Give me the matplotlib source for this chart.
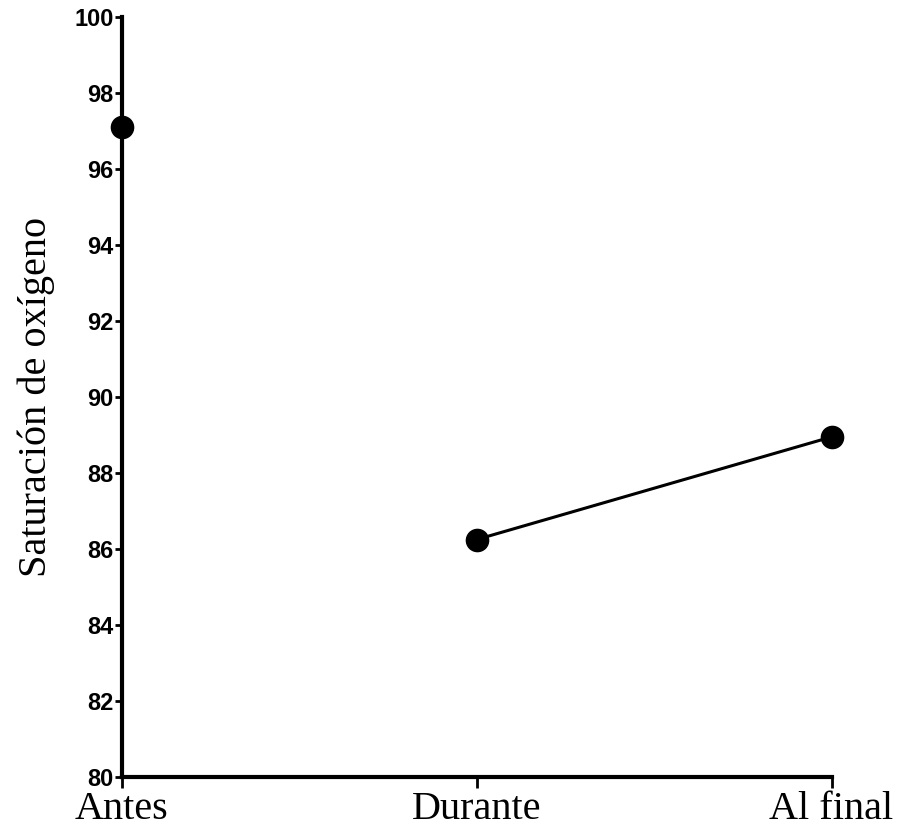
import matplotlib
matplotlib.use("Agg")
import matplotlib.pyplot as plt

categories = ["Antes", "Durante", "Al final"]
values = [97.1, 86.25, 88.95]
yticks = [80, 82, 84, 86, 88, 90, 92, 94, 96, 98, 100]

fig = plt.figure(figsize=(9.05, 8.31), dpi=100)
ax = fig.add_axes([0.1348, 0.065, 0.784, 0.9145])

x = list(range(len(categories)))
ax.plot(x[1:], values[1:], color="black", lw=2.2, zorder=2)
ax.plot(x, values, "o", color="black", ms=16, zorder=3, clip_on=False)

ax.set_xlim(0, 2)
ax.set_ylim(80, 100)
ax.set_xticks(x)
ax.set_xticklabels(categories, family="Liberation Serif", fontsize=29)
ax.set_yticks(yticks)
ax.set_yticklabels([str(t) for t in yticks], family="Liberation Sans",
                   fontweight="bold", fontsize=17)
ax.set_ylabel("Saturación de oxígeno", family="Liberation Serif", fontsize=29)
ax.yaxis.set_label_coords(-0.095, 0.5)

for s in ["top", "right"]:
    ax.spines[s].set_visible(False)
for s in ["left", "bottom"]:
    ax.spines[s].set_linewidth(3)
ax.tick_params(axis="y", direction="out", length=5, width=2, pad=1)
ax.tick_params(axis="x", direction="out", length=8, width=2, pad=2)

fig.savefig("out.png", dpi=100)
